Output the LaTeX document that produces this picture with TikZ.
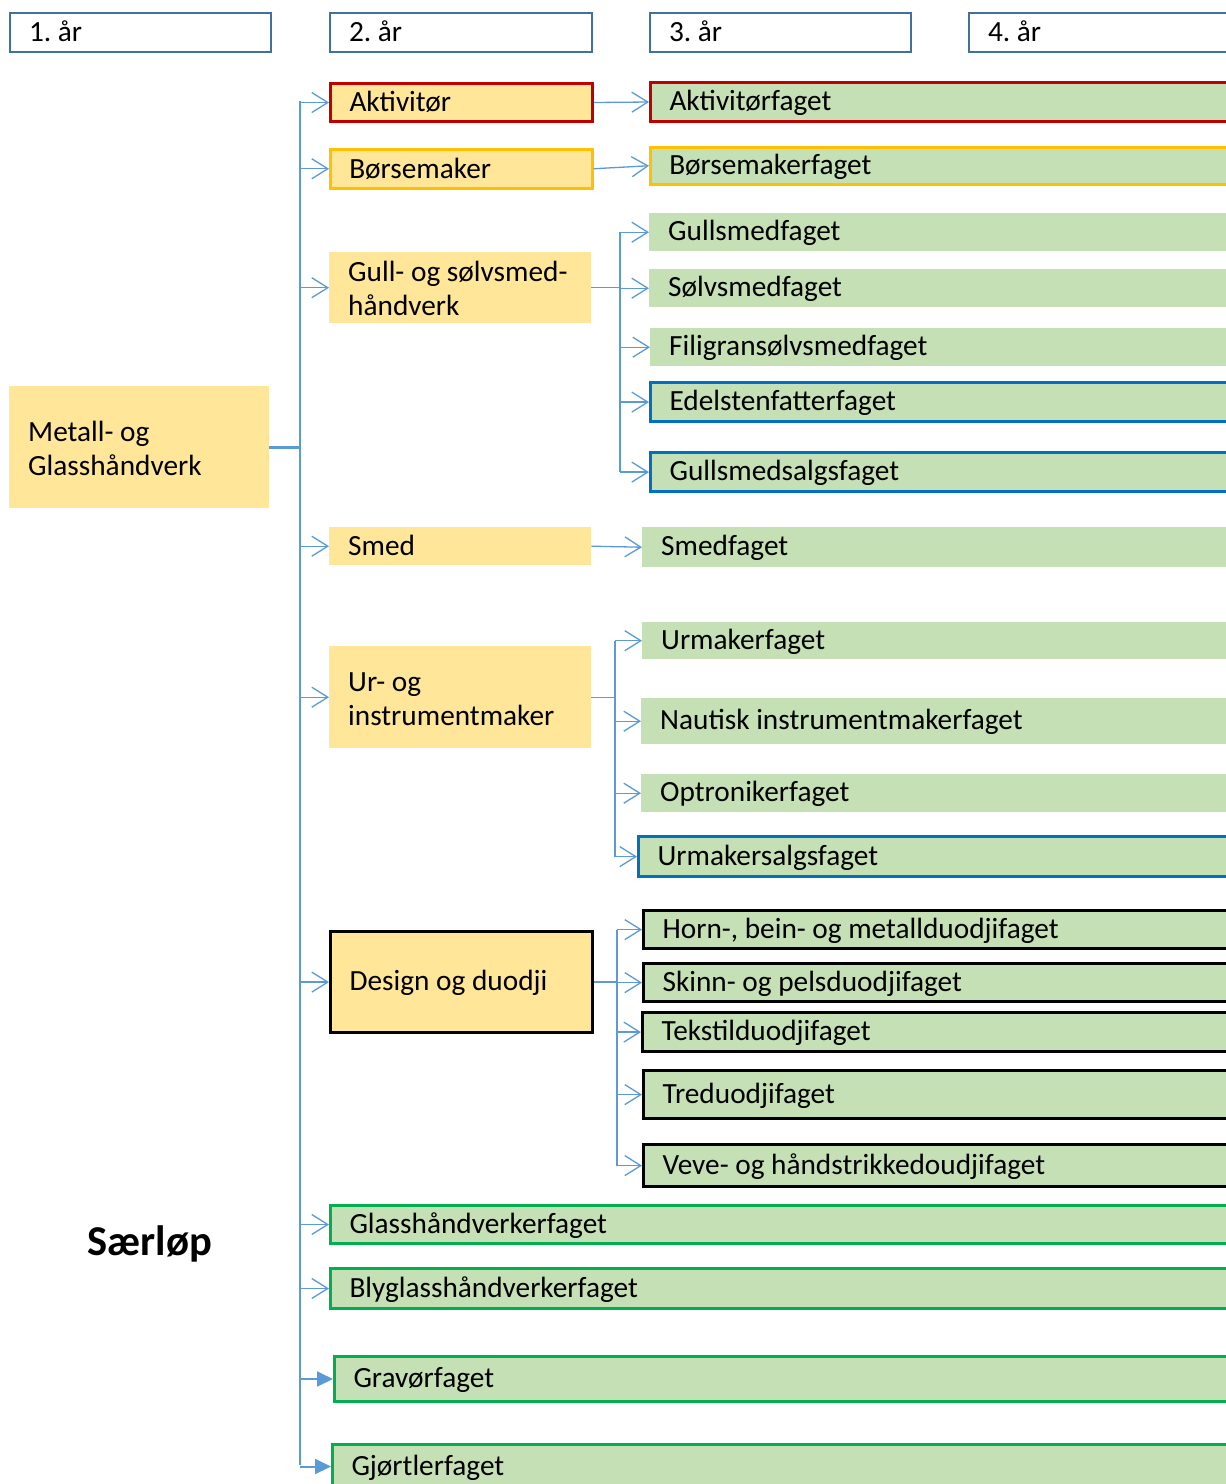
\documentclass[tikz,border=0pt]{standalone}
\usepackage{fontspec}
\setmainfont{Carlito}
\usetikzlibrary{arrows.meta}
\definecolor{yel}{HTML}{FFE699}
\definecolor{grn}{HTML}{C5E0B4}
\definecolor{hdr}{HTML}{41719C}
\definecolor{lnkc}{HTML}{5B9BD5}
\definecolor{redb}{HTML}{C00000}
\definecolor{orab}{HTML}{FFC000}
\definecolor{blub}{HTML}{0070C0}
\definecolor{grnb}{HTML}{00B050}
\newcommand\bx[7]{%
  \pgfmathsetmacro\bxw{#6-(#3)}%
  \pgfmathsetmacro\bxh{#5-(#4)}%
  \pgfmathsetmacro\bxt{#6-(#3)-38}%
  \node[#2, anchor=north west, minimum width=\bxw pt, minimum height=\bxh pt, text width=\bxt pt] (#1) at (#3,#4) {#7};}
\tikzset{
  base/.style={font=\fontsize{29.3}{34}\selectfont\frenchspacing, inner xsep=19pt, inner ysep=0pt,
    execute at begin node={\spaceskip=0pt\xspaceskip=0pt\rule[-4pt]{0pt}{26.5pt}}},
  y2/.style={base, fill=yel},
  y3/.style={base, fill=grn},
  hdrbox/.style={base, draw=hdr, line width=2pt, fill=white},
  rb/.style={draw=redb, line width=3pt},
  ob/.style={draw=orab, line width=2.5pt},
  bb/.style={draw=blub, line width=3.2pt},
  kb/.style={draw=black, line width=3.2pt},
  gb/.style={draw=grnb, line width=3pt},
  conn/.style={draw=lnkc, line width=1.3pt},
  arr/.style={conn, -{Straight Barb[length=16pt,width=20pt]}},
  farr/.style={draw=lnkc, line width=2pt, -{Triangle[length=16pt,width=15pt]}},
  trunk/.style={draw=lnkc, line width=2.6pt},
}
\begin{document}
\begin{tikzpicture}[x=1pt,y=-1pt]
\useasboundingbox (0,0) rectangle (1226,1484);
\fill[white] (0,0) rectangle (1226,1484);
\clip (0,0) rectangle (1226,1484);
% headers
\bx{h1}{hdrbox}{9}{12}{51}{270}{1. år}
\bx{h2}{hdrbox}{329}{12}{51}{591}{2. år}
\bx{h3}{hdrbox}{649}{12}{51}{910}{3. år}
\bx{h4}{hdrbox}{968}{12}{51}{1250}{4. år}
% root
\bx{root}{y2}{9}{386}{508}{269}{Metall- og\\Glasshåndverk}
% year 2
\bx{akt}{y2,rb}{329}{82}{120}{591}{Aktivitør}
\bx{bor}{y2,ob}{329}{148}{187}{591}{Børsemaker}
\bx{gull}{y2}{329}{252}{323}{591}{Gull- og sølvsmed-\\håndverk}
\bx{smed}{y2}{329}{527}{565}{591}{Smed}
\bx{ur}{y2}{329}{646}{748}{591}{Ur- og\\instrumentmaker}
\bx{des}{y2,kb}{329}{930}{1031}{591}{Design og duodji}
% year 3
\bx{aktf}{y3,rb}{649}{81}{120}{1250}{Aktivitørfaget}
\bx{borf}{y3,ob}{649}{146}{183}{1250}{Børsemakerfaget}
\bx{gsm}{y3}{649}{213}{251}{1250}{Gullsmedfaget}
\bx{ssm}{y3}{649}{269}{307}{1250}{Sølvsmedfaget}
\bx{fil}{y3}{650}{328}{366}{1250}{Filigransølvsmedfaget}
\bx{ede}{y3,bb}{649}{381}{420}{1250}{Edelstenfatterfaget}
\bx{gsa}{y3,bb}{649}{451}{490}{1250}{Gullsmedsalgsfaget}
\bx{smf}{y3}{642}{527}{567}{1250}{Smedfaget}
\bx{urf}{y3}{642}{622}{659}{1250}{Urmakerfaget}
\bx{nau}{y3}{641}{698}{744}{1250}{Nautisk instrumentmakerfaget}
\bx{opt}{y3}{641}{774}{812}{1250}{Optronikerfaget}
\bx{urs}{y3,bb}{637}{835}{875}{1250}{Urmakersalgsfaget}
\bx{hor}{y3,kb}{642}{909}{947}{1250}{Horn-, bein- og metallduodjifaget}
\bx{ski}{y3,kb}{642}{962}{1000}{1250}{Skinn- og pelsduodjifaget}
\bx{tek}{y3,kb}{641}{1011}{1050}{1250}{Tekstilduodjifaget}
\bx{tre}{y3,kb}{642}{1069}{1117}{1250}{Treduodjifaget}
\bx{vev}{y3,kb}{642}{1143}{1185}{1250}{Veve- og håndstrikkedoudjifaget}
% special
\bx{gla}{y3,gb}{329}{1204}{1242}{1250}{Glasshåndverkerfaget}
\bx{bly}{y3,gb}{329}{1267}{1307}{1250}{Blyglasshåndverkerfaget}
\bx{grv}{y3,gb}{333}{1355}{1400}{1250}{Gravørfaget}
\bx{gjo}{y3,gb}{331}{1443}{1487}{1250}{Gjørtlerfaget}
\node[font=\fontsize{42.5}{50}\selectfont\bfseries] (sar) at (150,1244) {Særløp};
% trunk
\coordinate (tTop) at (300,101);
\coordinate (tBot) at (300,1465);
\draw[trunk] (tTop) -- (tBot);
\draw[trunk] (root.east) -- (root.east -| tTop);
\foreach \n in {akt,bor,gull,smed,ur,des,gla,bly}
  \draw[arr] (tTop |- \n.west) -- (\n.west);
\foreach \n in {grv,gjo}
  \draw[farr] (tTop |- \n.west) -- (\n.west);
% direct links
\draw[arr] (akt.east) -- (aktf.west);
\draw[arr] (bor.east) -- (borf.west);
\draw[arr] (smed.east) -- (smf.west);
% gull fan
\coordinate (gv) at (620,0);
\draw[conn] (gull.east) -- (gull.east -| gv);
\draw[conn] (gv |- gsm.west) -- (gv |- gsa.west);
\foreach \n in {gsm,ssm,fil,ede,gsa}
  \draw[arr] (gv |- \n.west) -- (\n.west);
% ur fan
\coordinate (uv) at (615,0);
\draw[conn] (ur.east) -- (ur.east -| uv);
\draw[conn] (uv |- urf.west) -- (uv |- urs.west);
\foreach \n in {urf,nau,opt,urs}
  \draw[arr] (uv |- \n.west) -- (\n.west);
% design fan
\coordinate (dv) at (617,0);
\draw[conn] (des.east) -- (des.east -| dv);
\draw[conn] (dv |- hor.west) -- (dv |- vev.west);
\foreach \n in {hor,ski,tek,tre,vev}
  \draw[arr] (dv |- \n.west) -- (\n.west);
\end{tikzpicture}
\end{document}
